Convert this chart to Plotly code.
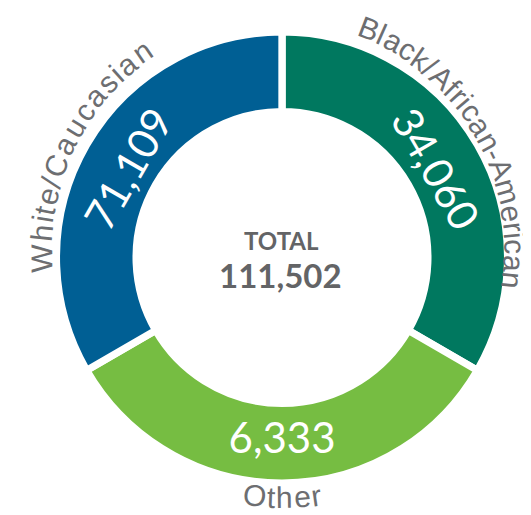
import math
import plotly.graph_objects as go

# ---- data ----
categories = ["Black/African-American", "Other", "White/Caucasian"]
counts = [34060, 6333, 71109]
slice_weights = [1, 1, 1]          # the reference draws three equal slices
colors = ["#00785f", "#76bd42", "#005f94"]
total_title = "TOTAL"

# ---- geometry (pixels) ----
W, H = 531, 515
cx, cy = 274.0, 249.5
r_outer = 225.6
gap = 7.3
hole = 0.6465

label_color = "#6d6e71"
center_color = "#636466"
NUM_FONT = "Lato"
LBL_FONT = "Liberation Sans"
LBL_SIZE = 30

# Liberation Sans (Arial metrics) advance widths (em)
CHAR_W = {
    "A": 0.667, "B": 0.667, "C": 0.722, "O": 0.778, "W": 0.944,
    "a": 0.556, "c": 0.5, "e": 0.556, "f": 0.278, "h": 0.556, "i": 0.222,
    "k": 0.5, "l": 0.222, "m": 0.833, "n": 0.556, "r": 0.333, "s": 0.5,
    "t": 0.278, "u": 0.556, "/": 0.278, "-": 0.333,
}
# label placement: (angle shift, start radius, end radius, tracking)
LABEL_POS = {
    "Black/African-American": (-2.0, 245.0, 231.0, 1.06),
    "Other": (0.0, 240.0, 240.0, 1.06),
    "White/Caucasian": (-3.0, 240.0, 249.0, 1.17),
}


def norm(a):
    return ((a + 180.0) % 360.0) - 180.0


def arc_chars(text, center_deg, r0, r1, track, size):
    top = math.cos(math.radians(center_deg)) > 0
    widths = [CHAR_W.get(ch, 0.55) * size * track for ch in text]
    total = sum(widths)
    rm = (r0 + r1) / 2.0
    s = -total / 2.0
    anns = []
    for ch, w in zip(text, widths):
        mid = s + w / 2.0
        s += w
        frac = (mid + total / 2.0) / total
        radius = r0 + (r1 - r0) * frac
        d = math.degrees(mid / rm)
        if top:
            th = center_deg + d
            ang = th
        else:
            th = center_deg - d
            ang = th - 180.0
        px = cx + radius * math.sin(math.radians(th))
        py = cy - radius * math.cos(math.radians(th))
        anns.append(dict(
            x=px / W, y=1 - py / H, xref="paper", yref="paper",
            text=ch, textangle=norm(ang), showarrow=False,
            xanchor="center", yanchor="middle", borderpad=0,
            font=dict(family=LBL_FONT, size=size, color=label_color),
        ))
    return anns


# slice centre angles from the weights (clockwise from 12 o'clock)
tot_w = sum(slice_weights)
mids = []
acc = 0.0
for w in slice_weights:
    mids.append((acc + w / 2.0) / tot_w * 360.0)
    acc += w

annotations = []
for name, m in zip(categories, mids):
    shift, r0, r1, track = LABEL_POS[name]
    annotations += arc_chars(name, m + shift, r0, r1, track, LBL_SIZE)

total = sum(counts)
annotations.append(dict(
    x=cx / W, y=1 - 232 / H, xref="paper", yref="paper", showarrow=False,
    text=f"<b>{total_title}</b>", font=dict(family=NUM_FONT, size=24, color=center_color),
    xanchor="center", yanchor="middle"))
annotations.append(dict(
    x=(cx - 2) / W, y=1 - 267 / H, xref="paper", yref="paper", showarrow=False,
    text=f"<b>{total:,}</b>", font=dict(family=NUM_FONT, size=33, color=center_color),
    xanchor="center", yanchor="middle"))

dom_x = [(cx - r_outer) / W, (cx + r_outer) / W]
dom_y = [(H - cy - r_outer) / H, (H - cy + r_outer) / H]

fig = go.Figure(go.Pie(
    labels=categories,
    values=slice_weights,
    text=[f"{v:,}" for v in counts],
    textinfo="text",
    textposition="inside",
    insidetextorientation="tangential",
    textfont=dict(family=NUM_FONT, size=42, color="white"),
    marker=dict(colors=colors, line=dict(color="white", width=gap)),
    hole=hole,
    sort=False,
    direction="clockwise",
    rotation=0,
    domain=dict(x=dom_x, y=dom_y),
    showlegend=False,
    hoverinfo="label+text",
))

fig.update_layout(
    width=W, height=H,
    margin=dict(l=0, r=0, t=0, b=0),
    paper_bgcolor="white",
    plot_bgcolor="white",
    showlegend=False,
    annotations=annotations,
)

fig.write_html("out.html")
